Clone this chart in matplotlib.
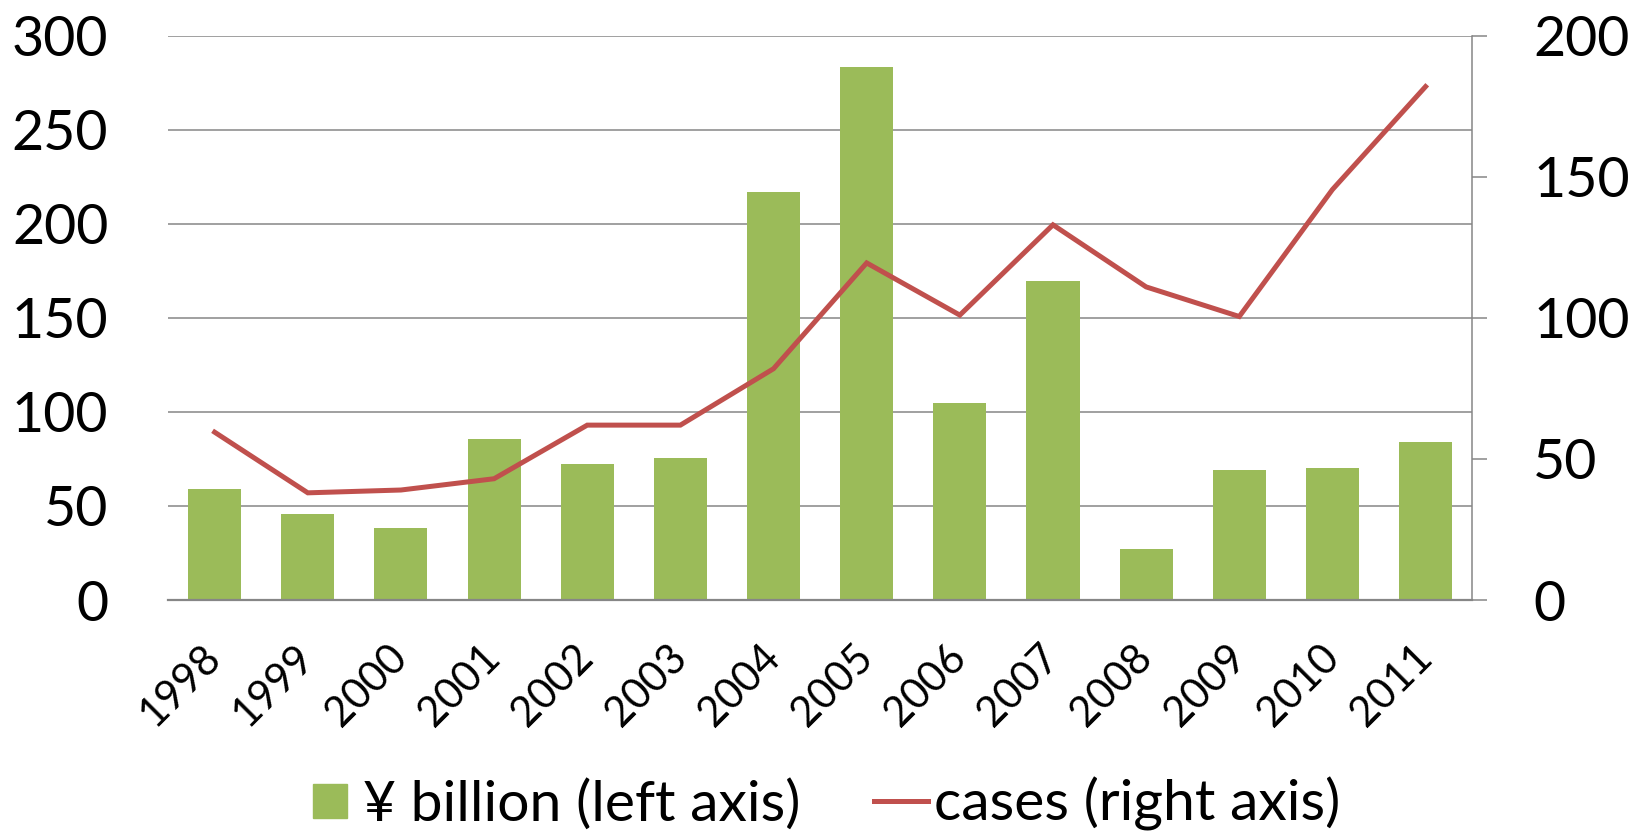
"""Bar + line combo chart: yen billions (bars, left) and cases (line, right)."""

import matplotlib
matplotlib.use("Agg")
import matplotlib.pyplot as plt
from matplotlib.lines import Line2D

plt.rcParams["font.family"] = ["Lato", "DejaVu Sans"]

years = ["1998", "1999", "2000", "2001", "2002", "2003", "2004",
         "2005", "2006", "2007", "2008", "2009", "2010", "2011"]
yen_billion = [59, 45.5, 38.5, 85.5, 72.5, 75.5, 217,
               283.5, 105, 169.5, 27, 69, 70, 84]
cases = [59.5, 38, 39, 43, 62, 62, 82,
         119.5, 101, 133, 111, 100.5, 145.5, 182]

BAR_COLOR = "#9BBB59"
LINE_COLOR = "#C0504D"
GRID_COLOR = "#868686"

fig = plt.figure(figsize=(16.43, 8.35), dpi=100)
fig.patch.set_facecolor("white")
ax = fig.add_axes([0.1023, 0.2814, 0.7937, 0.6757])
ax2 = ax.twinx()

x = list(range(len(years)))

# Bars on left axis
ax.bar(x, yen_billion, width=0.57, color=BAR_COLOR, zorder=2)
ax.set_ylim(0, 300)
ax.set_yticks([0, 50, 100, 150, 200, 250, 300])
ax.set_xlim(-0.5, len(years) - 0.5)
ax.grid(axis="y", color=GRID_COLOR, linewidth=1.1, zorder=0)
ax.set_axisbelow(True)

# Line on right axis
ax2.plot(x, cases, color=LINE_COLOR, linewidth=3.6, zorder=3,
         solid_joinstyle="miter")
ax2.set_ylim(0, 200)
ax2.set_yticks([0, 50, 100, 150, 200])

# Styling
for s in ["top", "left"]:
    ax.spines[s].set_visible(False)
    ax2.spines[s].set_visible(False)
ax.spines["right"].set_visible(False)
ax2.spines["bottom"].set_visible(False)
ax.spines["bottom"].set_color(GRID_COLOR)
ax.spines["bottom"].set_linewidth(1.6)
ax2.spines["right"].set_color(GRID_COLOR)
ax2.spines["right"].set_linewidth(1.1)

ax.tick_params(axis="y", length=0, pad=43, labelsize=40)
ax.tick_params(axis="x", length=0, pad=37, labelsize=30)
ax2.tick_params(axis="y", length=11, width=1.1, color=GRID_COLOR,
                pad=33, labelsize=40)

ax.set_xticks(x)
ax.set_xticklabels(years, rotation=45, ha="right", va="center",
                   rotation_mode="anchor")

# Legend
handles = [
    Line2D([], [], linestyle="none", marker="s", markersize=24,
           markerfacecolor=BAR_COLOR, markeredgecolor=BAR_COLOR),
    Line2D([], [], color=LINE_COLOR, linewidth=3.6),
]
labels = ["¥ billion (left axis)", "cases (right axis)"]
fig.legend(handles, labels, loc="center", bbox_to_anchor=(0.5, 0.037),
           ncol=2, frameon=False, fontsize=41, handlelength=0.95,
           handletextpad=0.1, columnspacing=1.3, borderaxespad=0)

fig.savefig("out.png", dpi=100, facecolor=fig.get_facecolor())
plt.close(fig)
